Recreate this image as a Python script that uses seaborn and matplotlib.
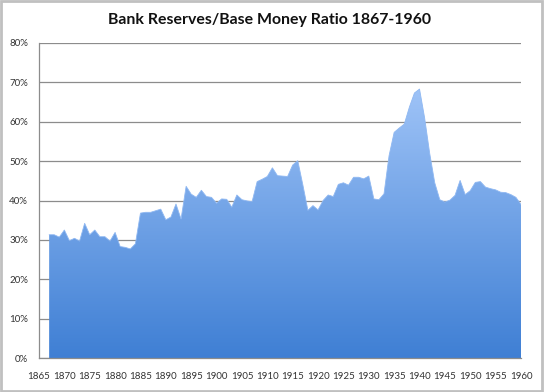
import seaborn as sns
import matplotlib.pyplot as plt
import matplotlib.ticker as mtick
import numpy as np
from matplotlib.colors import LinearSegmentedColormap
from matplotlib.patches import Rectangle

years = list(range(1867, 1961))
ratio = [31.3, 31.3, 30.7, 32.5, 29.8, 30.4, 29.7, 34.2, 31.3, 32.5,
         30.8, 30.8, 29.7, 31.9, 28.3, 28.1, 27.7, 29.0, 36.8, 37.0,
         37.0, 37.4, 37.8, 35.1, 35.8, 39.1, 35.3, 43.6, 41.6, 40.8,
         42.6, 41.0, 40.8, 39.3, 40.4, 40.3, 38.3, 41.4, 40.2, 39.9,
         39.7, 44.8, 45.4, 46.1, 48.3, 46.3, 46.2, 46.1, 49.0, 50.1,
         44.0, 37.5, 38.7, 37.6, 40.0, 41.4, 41.0, 44.1, 44.5, 43.9,
         45.9, 45.9, 45.5, 46.2, 40.4, 40.2, 41.7, 51.4, 57.3, 58.4,
         59.4, 63.7, 67.3, 68.3, 61.0, 52.0, 44.5, 40.2, 39.6, 40.1,
         41.3, 45.1, 41.5, 42.5, 44.6, 44.8, 43.4, 43.0, 42.7, 42.1,
         42.0, 41.5, 40.8, 39.0]
ratio = [v / 100 for v in ratio]

sns.set_theme(style="white")
plt.rcParams['font.family'] = ['Lato', 'DejaVu Sans']

fig = plt.figure(figsize=(5.44, 3.92), dpi=100)
ax = fig.add_axes([39 / 544, 1 - 358 / 392, 482 / 544, 315 / 392])

# area with vertical gradient (light at top, darker at bottom)
area = ax.fill_between(years, 0, ratio, color="none", lw=0)
grad_cmap = LinearSegmentedColormap.from_list("blues", ["#3f7fd4", "#9ec3f7"])
grad = np.linspace(0, 1, 256).reshape(-1, 1)
img = ax.imshow(grad, cmap=grad_cmap, origin="lower", aspect="auto",
                extent=[years[0], years[-1], 0, max(ratio)], zorder=2)
img.set_clip_path(area.get_paths()[0], transform=ax.transData)

sns.lineplot(x=years, y=ratio, ax=ax, color="#8fb8f2", lw=0.6, zorder=3)

ax.set_xlim(1865, 1960)
ax.set_ylim(0, 0.8)
ax.yaxis.set_major_locator(mtick.MultipleLocator(0.1))
ax.yaxis.set_major_formatter(mtick.PercentFormatter(1.0, decimals=0))
ax.xaxis.set_major_locator(mtick.MultipleLocator(5))
ax.xaxis.set_minor_locator(mtick.MultipleLocator(1))
ax.grid(axis="y", color="#8c8c8c", lw=0.9, zorder=1)
ax.set_axisbelow(True)

for side in ["top", "right"]:
    ax.spines[side].set_visible(False)
for side in ["left", "bottom"]:
    ax.spines[side].set_color("#8c8c8c")
    ax.spines[side].set_linewidth(0.9)

ax.tick_params(axis="both", which="both", direction="out", color="#8c8c8c",
               labelsize=7, labelcolor="#333333", width=0.8)
ax.tick_params(axis="y", length=5, pad=3)
ax.tick_params(axis="x", which="both", length=4, pad=6)
ax.set_xlabel("")
ax.set_ylabel("")

fig.text(0.5 - 2 / 544, 1 - 20 / 392, "Bank Reserves/Base Money Ratio 1867-1960",
         ha="center", va="center", fontsize=11.4, fontweight="bold", color="#111111")

fig.patches.append(Rectangle((0.002, 0.003), 0.995, 0.994, transform=fig.transFigure,
                             fill=False, edgecolor="#c0c0c0", lw=2))

fig.savefig("out.png", dpi=100)
